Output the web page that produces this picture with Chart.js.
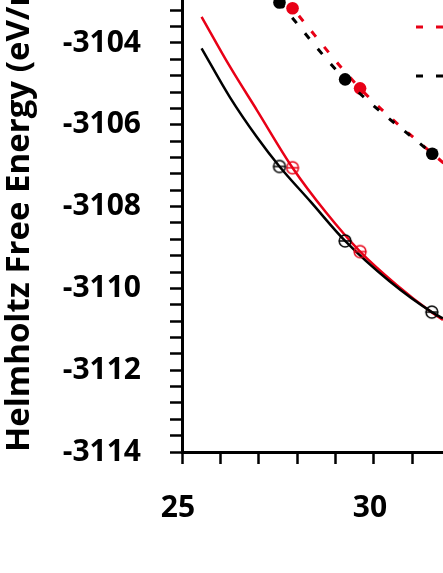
<!DOCTYPE html>
<html>
<head>
<meta charset="utf-8">
<script src="https://cdn.jsdelivr.net/npm/chart.js@4.4.0/dist/chart.umd.min.js"></script>
<style>
  html, body { margin: 0; padding: 0; background: #fff; overflow: hidden; }
  #crop { position: relative; width: 443px; height: 573px; overflow: hidden; }
  #crop canvas { position: absolute; left: 0; top: -227px; }
</style>
</head>
<body>
<div id="crop"><canvas id="energyChart" width="520" height="800"></canvas></div>
<script>
// the figure is a crop of a bigger plot, so the canvas is larger than the window
const RED = 'rgb(232, 0, 22)';
const BLACK = '#000';

// filled markers joined by dashed lines
const blackFilledX = [27.54, 29.25, 31.52];
const blackFilledY = [-3103.01, -3104.89, -3106.71];
const redFilledX = [27.88, 29.64, 32.10];
const redFilledY = [-3103.15, -3105.11, -3107.17];

// open markers
const blackOpenX = [27.54, 29.25, 31.51];
const blackOpenY = [-3107.02, -3108.84, -3110.58];
const redOpenX = [27.88, 29.64, 32.10];
const redOpenY = [-3107.05, -3109.10, -3110.98];

// solid fitted curves
const blackFitX = [25.51, 26.25, 26.95, 27.54, 28.35, 29.25, 30.40, 31.51, 31.80];
const blackFitY = [-3104.13, -3105.33, -3106.30, -3107.02, -3107.88, -3108.84, -3109.82, -3110.58, -3110.73];
const redFitX = [25.51, 26.25, 26.95, 27.88, 28.75, 29.64, 30.60, 31.51, 31.80];
const redFitY = [-3103.36, -3104.58, -3105.64, -3107.05, -3108.14, -3109.10, -3109.92, -3110.59, -3110.77];

const xTickLabels = [25, 30];
const yTickLabels = [-3114, -3112, -3110, -3108, -3106, -3104, -3102, -3100, -3098];

function pts(xs, ys) {
  return xs.map((x, i) => ({ x: x, y: ys[i] }));
}

// circle with a horizontal bar through it
function openMarker(color) {
  const c = document.createElement('canvas');
  c.width = 16; c.height = 16;
  const g = c.getContext('2d');
  g.strokeStyle = color;
  g.lineWidth = 1.5;
  g.beginPath(); g.arc(8, 8, 5.9, 0, Math.PI * 2); g.stroke();
  g.beginPath(); g.moveTo(1.8, 8); g.lineTo(14.2, 8); g.stroke();
  return c;
}

const tickFont = { family: 'Open Sans', weight: 'bold', size: 30 };

function hasLabel(list, v) {
  return list.some(t => Math.abs(t - v) < 1e-6);
}

// legend sits inside the plot, its text runs off the cropped edge
const legendInPlot = {
  id: 'legendInPlot',
  afterDatasetsDraw(chart) {
    const { ctx } = chart;
    const rows = [{ index: 1, y: 254 }, { index: 0, y: 303 }];
    ctx.save();
    rows.forEach(r => {
      const ds = chart.data.datasets[r.index];
      ctx.strokeStyle = ds.borderColor;
      ctx.lineWidth = ds.borderWidth;
      ctx.setLineDash(ds.borderDash);
      ctx.beginPath();
      ctx.moveTo(416, r.y);
      ctx.lineTo(476, r.y);
      ctx.stroke();
      ctx.setLineDash([]);
      ctx.fillStyle = BLACK;
      ctx.font = 'bold 30px "Open Sans"';
      ctx.textBaseline = 'middle';
      ctx.fillText(ds.label, 484, r.y);
    });
    ctx.restore();
  }
};

new Chart(document.getElementById('energyChart'), {
  type: 'scatter',
  data: {
    datasets: [
      {
        label: 'F (black)',
        data: pts(blackFilledX, blackFilledY),
        showLine: true,
        borderColor: BLACK,
        backgroundColor: BLACK,
        borderWidth: 3,
        borderDash: [7, 13],
        cubicInterpolationMode: 'monotone',
        pointRadius: 6.3,
        pointBorderWidth: 0
      },
      {
        label: 'F (red)',
        data: pts(redFilledX, redFilledY),
        showLine: true,
        borderColor: RED,
        backgroundColor: RED,
        borderWidth: 3,
        borderDash: [7, 13],
        borderDashOffset: 10,
        cubicInterpolationMode: 'monotone',
        pointRadius: 6.3,
        pointBorderWidth: 0
      },
      {
        label: 'black open',
        data: pts(blackOpenX, blackOpenY),
        pointStyle: openMarker(BLACK),
        pointRadius: 8
      },
      {
        label: 'red open',
        data: pts(redOpenX, redOpenY),
        pointStyle: openMarker(RED),
        pointRadius: 8
      },
      {
        label: 'black fit',
        data: pts(blackFitX, blackFitY),
        showLine: true,
        borderColor: BLACK,
        borderWidth: 2.5,
        cubicInterpolationMode: 'monotone',
        pointRadius: 0
      },
      {
        label: 'red fit',
        data: pts(redFitX, redFitY),
        showLine: true,
        borderColor: RED,
        borderWidth: 2.5,
        cubicInterpolationMode: 'monotone',
        pointRadius: 0
      }
    ]
  },
  options: {
    responsive: false,
    animation: false,
    devicePixelRatio: 1,
    layout: { padding: 0, autoPadding: false },
    plugins: {
      legend: { display: false },
      tooltip: { enabled: false }
    },
    scales: {
      x: {
        type: 'linear',
        min: 25,
        max: 33.807,
        afterFit(scale) {
          scale.height = 121;
          scale.paddingLeft = 0;
          scale.paddingRight = 0;
        },
        ticks: {
          stepSize: 1,
          includeBounds: false,
          autoSkip: false,
          maxRotation: 0,
          padding: 26,
          labelOffset: -4,
          color: BLACK,
          font: tickFont,
          callback: v => hasLabel(xTickLabels, v) ? String(v) : ''
        },
        grid: {
          drawOnChartArea: false,
          drawTicks: true,
          tickLength: 12,
          tickWidth: 2.5,
          tickColor: BLACK
        },
        border: { display: true, color: BLACK, width: 3 }
      },
      y: {
        type: 'linear',
        min: -3114,
        max: -3097.40,
        afterFit(scale) {
          scale.width = 182;
          scale.paddingTop = 0;
          scale.paddingBottom = 0;
        },
        title: {
          display: true,
          text: 'Helmholtz Free Energy (eV/molecule)',
          align: 'start',
          color: BLACK,
          font: { family: 'Open Sans', weight: 'bold', size: 33 },
          padding: { top: 0, bottom: 0 }
        },
        ticks: {
          stepSize: 0.4,
          includeBounds: false,
          autoSkip: false,
          padding: 29,
          color: BLACK,
          font: tickFont,
          callback: v => hasLabel(yTickLabels, v) ? String(Math.round(v)) : ''
        },
        grid: {
          drawOnChartArea: false,
          drawTicks: true,
          tickLength: 12,
          tickWidth: 2.5,
          tickColor: BLACK
        },
        border: { display: true, color: BLACK, width: 3 }
      }
    }
  },
  plugins: [legendInPlot]
});
</script>
</body>
</html>
